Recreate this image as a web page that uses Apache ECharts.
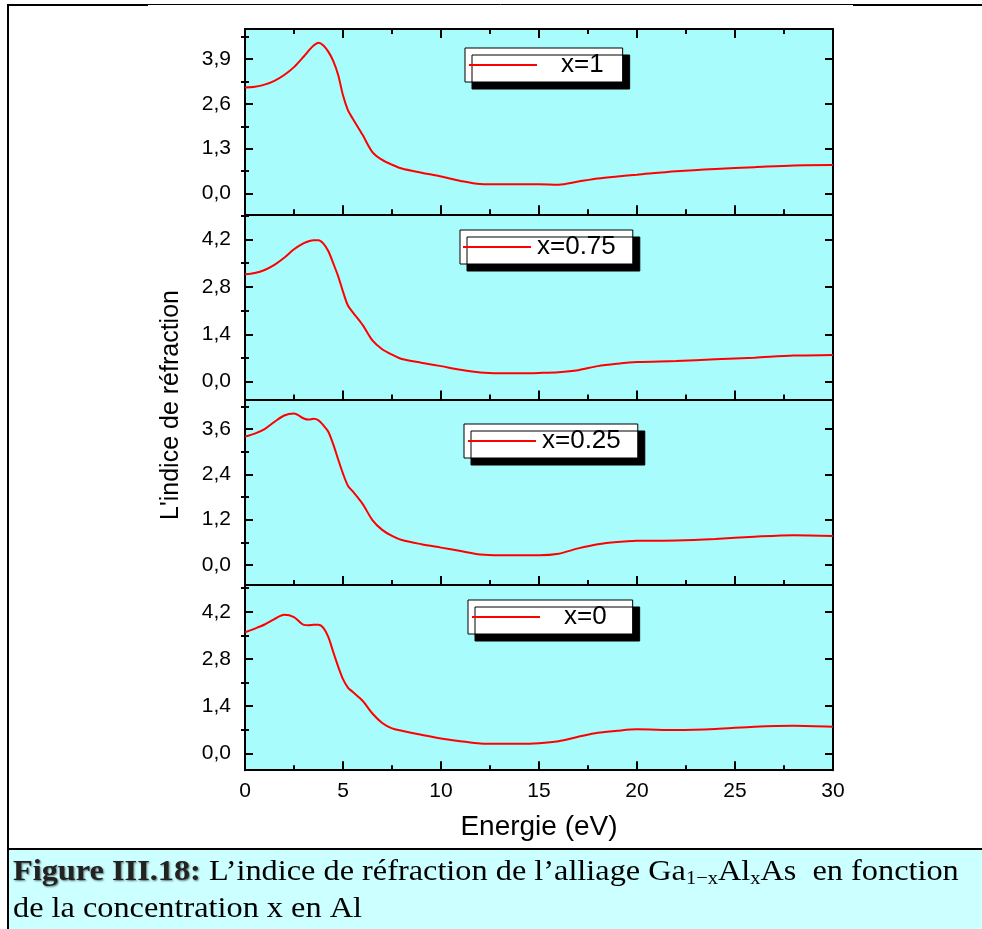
<!DOCTYPE html>
<html>
<head>
<meta charset="utf-8">
<script src="https://cdn.jsdelivr.net/npm/echarts@6/dist/echarts.min.js"></script>
<style>
  html, body { margin: 0; padding: 0; background: #fff; }
  #chart { width: 982px; height: 929px; }
</style>
</head>
<body>
<div id="chart"></div>
<script>
// Photon energy (eV), shared by the four curves
const energy = [0, 0.5, 1, 1.5, 2, 2.5, 3, 3.25, 3.5, 3.75, 4, 4.25, 4.5, 4.75, 5, 5.25, 5.5, 6, 6.5, 7, 7.5, 8,
                9, 10, 11, 12, 13, 14, 15, 16, 17, 18, 19, 20, 22, 24, 26, 28, 30];

// Refractive index n(E) for Ga(1-x)Al(x)As
const nX100 = [3.08, 3.10, 3.16, 3.27, 3.44, 3.67, 3.98, 4.15, 4.30, 4.38, 4.30, 4.12, 3.85, 3.45, 2.85, 2.42, 2.17, 1.70, 1.20, 0.97, 0.83, 0.72,
               0.60, 0.49, 0.36, 0.27, 0.26, 0.26, 0.26, 0.25, 0.34, 0.43, 0.49, 0.54, 0.64, 0.71, 0.76, 0.81, 0.82];
const nX075 = [3.17, 3.21, 3.30, 3.45, 3.66, 3.91, 4.09, 4.15, 4.18, 4.18, 4.08, 3.86, 3.50, 3.12, 2.66, 2.25, 2.05, 1.68, 1.22, 0.96, 0.80, 0.67,
               0.56, 0.46, 0.35, 0.27, 0.25, 0.25, 0.26, 0.28, 0.34, 0.46, 0.53, 0.58, 0.61, 0.66, 0.71, 0.77, 0.79];
const nX025 = [3.40, 3.48, 3.60, 3.79, 3.96, 4.01, 3.88, 3.85, 3.87, 3.83, 3.70, 3.53, 3.20, 2.80, 2.42, 2.10, 1.95, 1.62, 1.19, 0.93, 0.77, 0.66,
               0.55, 0.46, 0.37, 0.28, 0.26, 0.26, 0.26, 0.30, 0.44, 0.55, 0.61, 0.64, 0.65, 0.69, 0.75, 0.79, 0.77];
const nX000 = [3.59, 3.70, 3.82, 3.98, 4.11, 4.04, 3.81, 3.80, 3.81, 3.81, 3.72, 3.45, 3.01, 2.58, 2.20, 1.95, 1.82, 1.56, 1.18, 0.90, 0.74, 0.67,
               0.55, 0.44, 0.36, 0.29, 0.28, 0.28, 0.30, 0.36, 0.49, 0.61, 0.67, 0.71, 0.69, 0.72, 0.79, 0.82, 0.79];

const seriesNames = ['x=1', 'x=0.75', 'x=0.25', 'x=0'];
const seriesValues = [nX100, nX075, nX025, nX000];

// Tick values of each panel's n axis (labelled major ticks, unlabelled minor ticks)
const yMajorTicks = [
  [0, 1.3, 2.6, 3.9],
  [0, 1.4, 2.8, 4.2],
  [0, 1.2, 2.4, 3.6],
  [0, 1.4, 2.8, 4.2]
];
const yMinorTicks = [
  [0.65, 1.95, 3.25, 4.55],
  [0.7, 2.1, 3.5, 4.9],
  [0.6, 1.8, 3.0, 4.2],
  [0.7, 2.1, 3.5, 4.9]
];
const xTickStep = 5;

// Panel geometry and axis ranges
const panelTop = [29, 214.3, 399.6, 584.9];
const panelHeight = 185.3;
const yRange = [[-0.611, 4.779], [-0.529, 4.944], [-0.527, 4.38], [-0.501, 4.995]];
const legendBox = [
  { left: 465, top: 48,  padding: [4, 19, 4, 4], gap: 19 },
  { left: 460, top: 230, padding: [4, 17, 4, 3], gap: 1 },
  { left: 464, top: 424, padding: [4, 17, 4, 4], gap: 1 },
  { left: 468, top: 600, padding: [4, 26, 4, 4], gap: 19 }
];

const SANS = '"Liberation Sans", Arial, sans-serif';
const SERIF = '"Liberation Serif", "Times New Roman", serif';
const black = '#000';
const red = '#ff0000';
const tickLine = { color: black, width: 2 };

const grids = [], xAxes = [], yAxes = [], series = [], legends = [];

for (let p = 0; p < 4; p++) {
  grids.push({
    left: 245, width: 588, top: panelTop[p], height: panelHeight,
    show: true, backgroundColor: '#a8fcfc', borderWidth: 0
  });

  // bottom energy axis
  xAxes.push({
    type: 'value', gridIndex: p, position: 'bottom', min: 0, max: 30, interval: xTickStep,
    name: p === 3 ? 'Energie (eV)' : '', nameLocation: 'middle', nameGap: 43,
    nameTextStyle: { fontFamily: SANS, fontSize: 28, color: black },
    axisLine: { show: true, onZero: false, lineStyle: { color: black, width: 2 } },
    axisTick: { show: true, inside: true, length: 9, lineStyle: tickLine },
    minorTick: { show: true, splitNumber: 2, length: 5, lineStyle: tickLine },
    axisLabel: { show: p === 3, margin: 11, fontFamily: SANS, fontSize: 21, color: black },
    splitLine: { show: false }, minorSplitLine: { show: false }
  });
  // top energy axis
  xAxes.push({
    type: 'value', gridIndex: p, position: 'top', min: 0, max: 30, interval: xTickStep,
    axisLine: { show: true, onZero: false, lineStyle: { color: black, width: 2 } },
    axisTick: { show: p === 0, inside: true, length: 9, lineStyle: tickLine },
    minorTick: { show: p === 0, splitNumber: 2, length: 5, lineStyle: tickLine },
    axisLabel: { show: false },
    splitLine: { show: false }, minorSplitLine: { show: false }
  });

  const fmt = v => v.toFixed(1).replace('.', ',');
  const yBase = { type: 'value', gridIndex: p, min: yRange[p][0], max: yRange[p][1], splitLine: { show: false } };
  // left: major ticks with labels
  yAxes.push(Object.assign({}, yBase, {
    position: 'left',
    axisLine: { show: true, onZero: false, lineStyle: { color: black, width: 2 } },
    axisTick: { show: true, inside: true, length: 8, customValues: yMajorTicks[p], lineStyle: tickLine },
    axisLabel: { show: true, margin: 14, customValues: yMajorTicks[p], formatter: fmt,
                 fontFamily: SANS, fontSize: 21, color: black }
  }));
  // left: minor ticks
  yAxes.push(Object.assign({}, yBase, {
    position: 'left',
    axisLine: { show: false },
    axisTick: { show: true, inside: true, length: 4, customValues: yMinorTicks[p], lineStyle: tickLine },
    axisLabel: { show: false }
  }));
  // right: major ticks
  yAxes.push(Object.assign({}, yBase, {
    position: 'right',
    axisLine: { show: true, onZero: false, lineStyle: { color: black, width: 2 } },
    axisTick: { show: true, inside: true, length: 8, customValues: yMajorTicks[p], lineStyle: tickLine },
    axisLabel: { show: false }
  }));
  // right: minor ticks
  yAxes.push(Object.assign({}, yBase, {
    position: 'right',
    axisLine: { show: false },
    axisTick: { show: true, inside: true, length: 4, customValues: yMinorTicks[p], lineStyle: tickLine },
    axisLabel: { show: false }
  }));

  series.push({
    name: seriesNames[p], type: 'line', xAxisIndex: p * 2, yAxisIndex: p * 4,
    data: energy.map((e, i) => [e, seriesValues[p][i]]),
    symbol: 'none', smooth: 0.3,
    lineStyle: { color: red, width: 2 }, itemStyle: { color: red },
    emphasis: { disabled: true }
  });

  const lb = legendBox[p];
  legends.push({
    data: [seriesNames[p]], left: lb.left, top: lb.top, padding: lb.padding,
    backgroundColor: '#ffffff', borderColor: black, borderWidth: 1, borderRadius: 0,
    shadowColor: black, shadowBlur: 0, shadowOffsetX: 7, shadowOffsetY: 7,
    icon: 'rect', itemWidth: 68, itemHeight: 2, itemStyle: { color: red, borderWidth: 0 },
    selectedMode: false,
    textStyle: { fontFamily: SANS, fontSize: 26, color: black, padding: [0, 0, 0, lb.gap] }
  });
}

const chart = echarts.init(document.getElementById('chart'), null, { renderer: 'canvas' });
chart.setOption({
  animation: false,
  backgroundColor: '#ffffff',
  textStyle: { fontFamily: SANS },
  grid: grids, xAxis: xAxes, yAxis: yAxes, series: series, legend: legends,
  graphic: [
    // page frame
    { type: 'line', shape: { x1: 8, y1: 4, x2: 8, y2: 929 }, style: { stroke: black, lineWidth: 2 } },
    { type: 'line', shape: { x1: 7, y1: 5, x2: 148, y2: 5 }, style: { stroke: black, lineWidth: 2 } },
    { type: 'line', shape: { x1: 148, y1: 4.5, x2: 853, y2: 4.5 }, style: { stroke: black, lineWidth: 1 } },
    { type: 'line', shape: { x1: 853, y1: 5, x2: 982, y2: 5 }, style: { stroke: black, lineWidth: 2 } },
    // caption band
    { type: 'rect', shape: { x: 9, y: 850, width: 973, height: 79 }, style: { fill: '#ccffff' } },
    { type: 'line', shape: { x1: 8, y1: 849, x2: 982, y2: 849 }, style: { stroke: black, lineWidth: 2 } },
    // vertical axis title
    { type: 'text', x: 171, y: 405, rotation: Math.PI / 2,
      style: { text: 'L\'indice de réfraction', fontFamily: SANS, fontSize: 25, fill: black,
               align: 'center', verticalAlign: 'middle' } },
    // caption
    { type: 'text', x: 13, y: 872, scaleX: 1.077,
      style: {
        text: '{b|Figure III.18:} L’indice de réfraction de l’alliage Ga{s|1−x}Al{s|x}As  en fonction',
        fontFamily: SERIF, fontSize: 30, lineHeight: 34, fill: black, verticalAlign: 'middle',
        rich: {
          b: { fontFamily: SERIF, fontSize: 30, lineHeight: 34, fontWeight: 'bold', fill: '#222',
               textShadowColor: 'rgba(0,0,0,0.55)', textShadowBlur: 2, textShadowOffsetX: 1, textShadowOffsetY: 1 },
          s: { fontFamily: SERIF, fontSize: 19, lineHeight: 20, verticalAlign: 'bottom', fill: black }
        }
      } },
    { type: 'text', x: 13, y: 909, scaleX: 1.077,
      style: { text: 'de la concentration x en Al', fontFamily: SERIF, fontSize: 30, fill: black, verticalAlign: 'middle' } }
  ]
});
</script>
</body>
</html>
